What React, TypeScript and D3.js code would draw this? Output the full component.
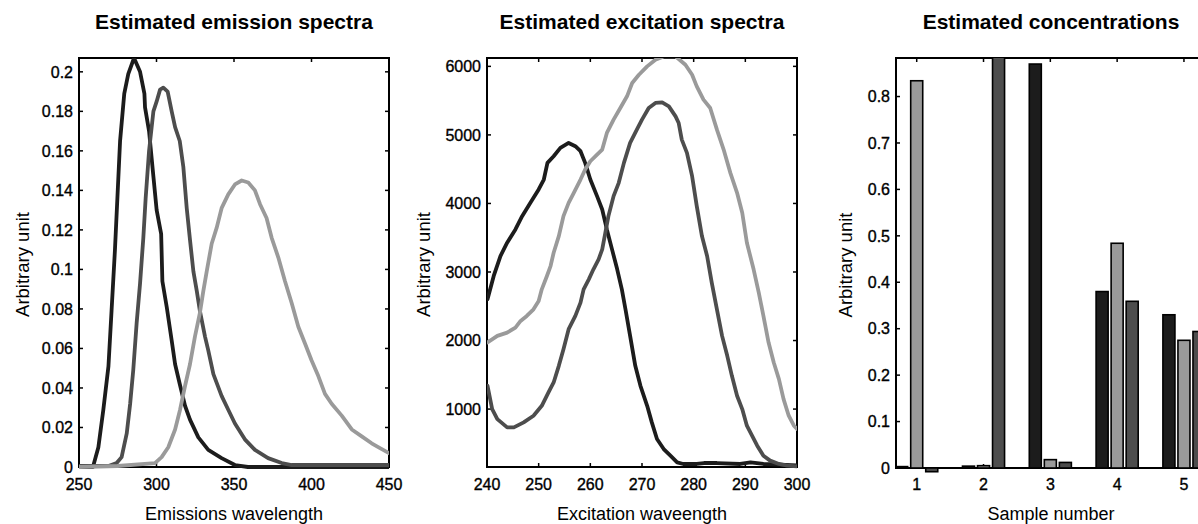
import React from "react";
import * as d3 from "d3";

// ---------- DATA ----------
const emissionTicksX = [250, 300, 350, 400, 450];
const emissionTicksY = [0, 0.02, 0.04, 0.06, 0.08, 0.1, 0.12, 0.14, 0.16, 0.18, 0.2];
const excitationTicksX = [240, 250, 260, 270, 280, 290, 300];
const excitationTicksY = [1000, 2000, 3000, 4000, 5000, 6000];
const concTicksY = [0, 0.1, 0.2, 0.3, 0.4, 0.5, 0.6, 0.7, 0.8];
const sampleNumbers = [1, 2, 3, 4, 5];

const emissionBlack: [number, number][] = [
  [250, 0], [259, 0], [262.5, 0.01], [265.7, 0.029], [269, 0.051], [271, 0.079], [273.2, 0.11],
  [275, 0.14], [276.5, 0.165], [279.2, 0.189], [281.8, 0.199], [285.5, 0.207], [289.4, 0.2],
  [292.2, 0.189], [292.6, 0.182], [295.2, 0.17], [298, 0.147], [300.1, 0.13], [303, 0.118],
  [303.8, 0.094], [306.6, 0.081], [309.8, 0.064], [312, 0.052], [315, 0.042], [318.4, 0.031],
  [321.6, 0.024], [327, 0.015], [333.4, 0.0087], [342, 0.0045], [350.6, 0.001], [359, 0], [450, 0],
];
const emissionDark: [number, number][] = [
  [250, 0.0005], [269, 0.0005], [274.3, 0.002], [277.5, 0.005], [280.8, 0.017], [283, 0.032],
  [285, 0.049], [287.2, 0.073], [289.4, 0.093], [291.5, 0.116], [293, 0.136], [295.2, 0.16],
  [298, 0.18], [300.1, 0.185], [302.3, 0.191], [304.4, 0.192], [307.2, 0.19], [309.8, 0.18],
  [312, 0.172], [315, 0.165], [317.3, 0.152], [319.5, 0.131], [321.6, 0.115], [323.8, 0.099],
  [326, 0.089], [328, 0.079], [331.3, 0.066], [333.4, 0.059], [336.7, 0.047], [342, 0.036],
  [346.3, 0.029], [350.6, 0.022], [357, 0.014], [363.5, 0.0087], [372, 0.0045], [380.8, 0.002],
  [387.2, 0.001], [450, 0.001],
];
const emissionLight: [number, number][] = [
  [250, 0], [275, 0.0005], [299, 0.002], [303.3, 0.005], [307.6, 0.01], [312, 0.019],
  [315.2, 0.029], [318.4, 0.041], [321.6, 0.052], [324.8, 0.066], [328, 0.078], [330.2, 0.089],
  [332.4, 0.099], [335.6, 0.113], [338.8, 0.121], [342, 0.131], [346.3, 0.138], [350.6, 0.143],
  [355, 0.145], [359.2, 0.144], [363.5, 0.14], [366.8, 0.133], [371, 0.126], [374.3, 0.116],
  [378.6, 0.106], [382.9, 0.094], [387.2, 0.083], [391.5, 0.071], [395.8, 0.0625], [400, 0.054],
  [404.4, 0.046], [408.7, 0.037], [413, 0.032], [419.5, 0.026], [426, 0.019], [432.4, 0.0155],
  [438.8, 0.012], [444.2, 0.0096], [450, 0.007],
];

const excitationBlack: [number, number][] = [
  [240.1, 2602], [241.3, 2942], [242.6, 3233], [243.9, 3427], [245.5, 3621], [246.8, 3815],
  [248.4, 4009], [250, 4204], [251, 4349], [251.7, 4592], [252.9, 4689], [254.2, 4810],
  [255.8, 4883], [257.1, 4835], [258.1, 4762], [259, 4592], [260, 4349], [261.3, 4107],
  [262.3, 3912], [263.2, 3621], [264.2, 3330], [265.2, 3039], [266.1, 2747], [266.8, 2456],
  [267.7, 2068], [268.7, 1631], [269.7, 1340], [271, 1048], [271.9, 806], [272.9, 563],
  [274.2, 417], [275.5, 320], [276.8, 223], [278, 199], [280.6, 199], [282, 213], [284.5, 213],
  [289, 199], [291, 223], [293.5, 199], [300, 180],
];
const excitationDark: [number, number][] = [
  [240.1, 1340], [241, 1000], [242, 854], [243.9, 733], [245.2, 733], [247.1, 806], [249, 903],
  [250.6, 1048], [251.9, 1243], [252.9, 1388], [253.9, 1631], [254.8, 1874], [255.8, 2165],
  [257.1, 2359], [258.1, 2553], [258.7, 2747], [259.7, 2893], [260.6, 3039], [261.6, 3184],
  [262.3, 3330], [262.9, 3572], [263.5, 3815], [264.5, 4107], [265.5, 4301], [266.5, 4592],
  [267.7, 4883], [269, 5077], [270, 5223], [271.3, 5393], [272.6, 5466], [273.9, 5475],
  [275.2, 5417], [276.5, 5271], [277.1, 5174], [277.7, 4932], [278.7, 4738], [279.7, 4398],
  [280.6, 3961], [281.6, 3524], [282.6, 3233], [283.5, 2844], [284.5, 2456], [285.5, 2068],
  [286.5, 1777], [287.4, 1485], [288.4, 1194], [289.4, 1000], [290.3, 757], [291.3, 612],
  [292.3, 466], [293.5, 320], [294.8, 248], [296.5, 199], [298.1, 175], [300, 165],
];
const excitationLight: [number, number][] = [
  [240.1, 1971], [242, 2068], [243.9, 2116], [245.5, 2189], [246.5, 2286], [247.7, 2359],
  [249, 2456], [250, 2577], [250.6, 2747], [251.6, 2942], [252.3, 3087], [252.9, 3281],
  [253.9, 3524], [254.8, 3815], [255.8, 4009], [256.8, 4155], [258.1, 4349], [259, 4495],
  [260, 4616], [261.3, 4713], [262.3, 4786], [263.2, 5029], [264.5, 5223], [265.8, 5393],
  [267.1, 5563], [268.1, 5757], [269.4, 5878], [271, 6000], [272.6, 6097], [274.2, 6145],
  [276.5, 6145], [278.4, 6024], [279.7, 5878], [280.6, 5708], [281.9, 5514], [283.2, 5393],
  [284.5, 5077], [285.8, 4786], [287.1, 4446], [288.4, 4155], [289.4, 3864], [290.3, 3427],
  [291.6, 3039], [292.6, 2699], [293.5, 2359], [294.5, 1971], [295.5, 1680], [296.5, 1437],
  [297.4, 1146], [298.4, 903], [299.4, 757], [300, 709],
];

const concBlack = [0.003, 0.004, 0.87, 0.38, 0.33];
const concGray = [0.834, 0.005, 0.018, 0.484, 0.275];
const concDark = [-0.008, 0.92, 0.012, 0.359, 0.294];

// ---------- STYLE ----------
const W = 1198;
const H = 524;
const FONT = "'Liberation Sans', Arial, Helvetica, sans-serif";
const C_BLACK = "#1c1c1c";
const C_DARK = "#4d4d4d";
const C_LIGHT = "#9a9a9a";
const TICK = 4;

type Box = { left: number; right: number; top: number; bottom: number };

function fmt(v: number) {
  return String(+v.toFixed(2));
}

function Frame({ box, xs, ys, xTicks, yTicks, title, xLabel, yLabelX, id, children }: any) {
  const { left, right, top, bottom } = box as Box;
  const cx = (left + right) / 2;
  const cy = (top + bottom) / 2;
  return (
    <g>
      <defs>
        <clipPath id={id}>
          <rect x={left} y={top} width={right - left} height={bottom - top + 14} />
        </clipPath>
      </defs>
      <text x={cx} y={29} textAnchor="middle" fontFamily={FONT} fontWeight="bold" fontSize={21} fill="#000">
        {title}
      </text>
      {xTicks.map((t: number) => (
        <g key={"x" + t}>
          <line x1={xs(t)} x2={xs(t)} y1={bottom} y2={bottom - TICK} stroke="#000" strokeWidth={1.5} />
          <line x1={xs(t)} x2={xs(t)} y1={top} y2={top + TICK} stroke="#000" strokeWidth={1.5} />
          <text x={xs(t)} y={490} textAnchor="middle" fontFamily={FONT} fontSize={16} fill="#000" stroke="#000" strokeWidth={0.35}>
            {fmt(t)}
          </text>
        </g>
      ))}
      {yTicks.map((t: number) => (
        <g key={"y" + t}>
          <line x1={left} x2={left + TICK} y1={ys(t)} y2={ys(t)} stroke="#000" strokeWidth={1.5} />
          <line x1={right} x2={right - TICK} y1={ys(t)} y2={ys(t)} stroke="#000" strokeWidth={1.5} />
          <text x={left - 6} y={ys(t)} dy="0.36em" textAnchor="end" fontFamily={FONT} fontSize={16} fill="#000" stroke="#000" strokeWidth={0.35}>
            {fmt(t)}
          </text>
        </g>
      ))}
      <rect x={left} y={top} width={right - left} height={bottom - top} fill="none" stroke="#000" strokeWidth={2} />
      <text x={cx} y={519.5} textAnchor="middle" fontFamily={FONT} fontSize={18} fill="#000">
        {xLabel}
      </text>
      <text
        transform={`translate(${yLabelX},${cy + 2}) rotate(-90)`}
        textAnchor="middle"
        fontFamily={FONT}
        fontSize={18.5}
        fill="#000"
      >
        Arbitrary unit
      </text>
      <g clipPath={`url(#${id})`}>{children}</g>
    </g>
  );
}

function LinePanel({ box, xDomain, yDomain, xTicks, yTicks, series, title, xLabel, yLabelX, id }: any) {
  const xs = d3.scaleLinear().domain(xDomain).range([box.left, box.right]);
  const ys = d3.scaleLinear().domain(yDomain).range([box.bottom, box.top]);
  const line = d3
    .line<[number, number]>()
    .x((d) => xs(d[0]))
    .y((d) => ys(d[1]));
  return (
    <Frame box={box} xs={xs} ys={ys} xTicks={xTicks} yTicks={yTicks} title={title} xLabel={xLabel} yLabelX={yLabelX} id={id}>
      {series.map((s: any, i: number) => (
        <path
          key={i}
          d={line(s.data) || ""}
          fill="none"
          stroke={s.color}
          strokeWidth={3.8}
          strokeLinejoin="round"
          strokeLinecap="round"
        />
      ))}
    </Frame>
  );
}

function BarPanel({ box }: any) {
  const xs = d3.scaleLinear().domain([0.69, 5.33]).range([box.left, box.right]);
  const ys = d3.scaleLinear().domain([0, 0.883]).range([box.bottom, box.top]);
  const groups = [
    { vals: concBlack, color: C_BLACK, off: -0.225 },
    { vals: concGray, color: C_LIGHT, off: 0 },
    { vals: concDark, color: C_DARK, off: 0.225 },
  ];
  const bw = 0.18;
  return (
    <Frame
      box={box}
      xs={xs}
      ys={ys}
      xTicks={sampleNumbers}
      yTicks={concTicksY}
      title="Estimated concentrations"
      xLabel="Sample number"
      yLabelX={852}
      id="clip3"
    >
      {groups.map((g, gi) =>
        sampleNumbers.map((s, i) => {
          const v = g.vals[i];
          const x0 = xs(s + g.off - bw / 2);
          const x1 = xs(s + g.off + bw / 2);
          const y0 = ys(Math.max(0, v));
          const y1 = ys(Math.min(0, v));
          return (
            <rect
              key={gi + "-" + i}
              x={x0}
              y={y0}
              width={x1 - x0}
              height={Math.max(y1 - y0, 1)}
              fill={g.color}
              stroke="#000"
              strokeWidth={1.6}
            />
          );
        })
      )}
    </Frame>
  );
}

export default function App() {
  const box1: Box = { left: 79, right: 389, top: 58, bottom: 467 };
  const box2: Box = { left: 487, right: 797, top: 58, bottom: 467 };
  const box3: Box = { left: 896, right: 1206, top: 58, bottom: 468 };
  return (
    <svg
      width={W}
      height={H}
      viewBox={`0 0 ${W} ${H}`}
      style={{ position: "absolute", left: 0, top: 0, background: "#fff" }}
    >
      <rect x={0} y={0} width={W} height={H} fill="#fff" />
      <LinePanel
        id="clip1"
        box={box1}
        xDomain={[250, 450]}
        yDomain={[0, 0.207]}
        xTicks={emissionTicksX}
        yTicks={emissionTicksY}
        title="Estimated emission spectra"
        xLabel="Emissions wavelength"
        yLabelX={29}
        series={[
          { data: emissionBlack, color: C_BLACK },
          { data: emissionDark, color: C_DARK },
          { data: emissionLight, color: C_LIGHT },
        ]}
      />
      <LinePanel
        id="clip2"
        box={box2}
        xDomain={[240, 300]}
        yDomain={[155, 6122]}
        xTicks={excitationTicksX}
        yTicks={excitationTicksY}
        title="Estimated excitation spectra"
        xLabel="Excitation waveength"
        yLabelX={430}
        series={[
          { data: excitationBlack, color: C_BLACK },
          { data: excitationDark, color: C_DARK },
          { data: excitationLight, color: C_LIGHT },
        ]}
      />
      <BarPanel box={box3} />
    </svg>
  );
}
